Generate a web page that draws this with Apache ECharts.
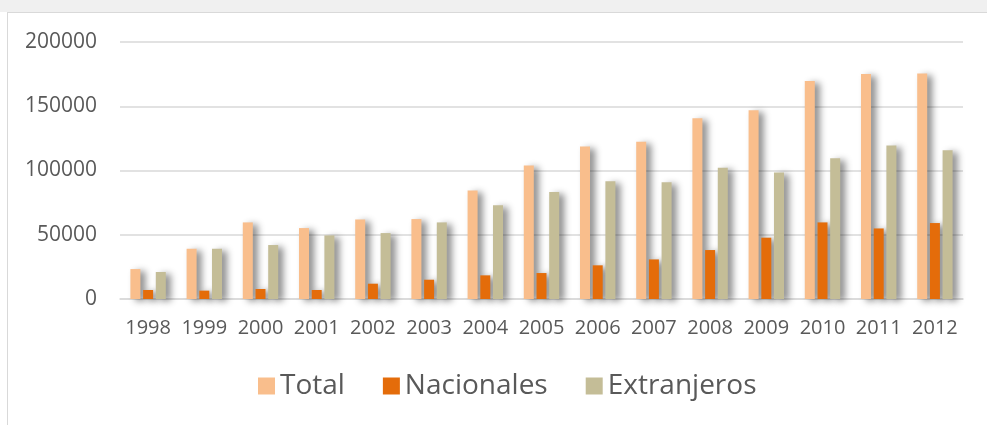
<!DOCTYPE html>
<html>
<head>
<meta charset="utf-8">
<script src="https://cdn.jsdelivr.net/npm/echarts@6/dist/echarts.min.js"></script>
<style>
  html, body { margin: 0; padding: 0; background: #ffffff; }
  #chart { width: 987px; height: 425px; }
</style>
</head>
<body>
<div id="chart"></div>
<script>
// Years on the category axis
const years = ['1998','1999','2000','2001','2002','2003','2004','2005','2006','2007','2008','2009','2010','2011','2012'];

// Visitor counts per year
const total       = [23300, 39100, 59600, 55200, 61900, 62200, 84500, 103900, 118700, 122300, 140600, 146900, 169700, 175100, 175400];
const nacionales  = [7000, 6500, 7800, 7000, 11900, 15000, 18400, 20200, 26200, 30800, 38100, 47700, 59600, 54900, 59100];
const extranjeros = [21000, 39100, 42000, 49500, 51300, 59600, 73000, 83200, 91700, 90900, 102100, 98500, 109600, 119500, 115800];

const seriesNames = ['Total', 'Nacionales', 'Extranjeros'];
const seriesColors = ['#F9BE8C', '#E46C0A', '#C4BD97'];
const seriesData = [total, nacionales, extranjeros];

const font = '"Open Sans", sans-serif';
const textColor = '#595959';

const chart = echarts.init(document.getElementById('chart'), null, { renderer: 'canvas' });

chart.setOption({
  animation: false,
  backgroundColor: '#ffffff',
  graphic: [
    { type: 'rect', shape: { x: 0, y: 0, width: 987, height: 12 }, style: { fill: '#f0f0f0' }, silent: true },
    { type: 'line', shape: { x1: 7, y1: 12.5, x2: 987, y2: 12.5 }, style: { stroke: '#d9d9d9', lineWidth: 1 }, silent: true },
    { type: 'line', shape: { x1: 7.5, y1: 12, x2: 7.5, y2: 425 }, style: { stroke: '#d9d9d9', lineWidth: 1 }, silent: true }
  ],
  grid: { left: 120, right: 24, top: 42, bottom: 126, containLabel: false },
  legend: {
    data: seriesNames,
    top: 367,
    left: 253,
    icon: 'rect',
    itemWidth: 17,
    itemHeight: 17,
    itemGap: 38,
    textStyle: { fontFamily: font, fontSize: 28, color: textColor }
  },
  xAxis: {
    type: 'category',
    data: years,
    axisLine: { lineStyle: { color: '#d9d9d9', width: 1.5 } },
    axisTick: { show: false },
    axisLabel: { fontFamily: font, fontSize: 20, color: textColor, margin: 19, interval: 0 }
  },
  yAxis: {
    type: 'value',
    min: 0,
    max: 200000,
    interval: 50000,
    axisLine: { show: false },
    axisTick: { show: false },
    splitLine: { lineStyle: { color: '#d9d9d9', width: 1.5 } },
    axisLabel: { fontFamily: font, fontSize: 21, color: textColor, margin: 23, formatter: v => String(v) }
  },
  series: seriesNames.map((name, i) => ({
    name: name,
    type: 'bar',
    data: seriesData[i],
    barWidth: 10,
    barGap: '27%',
    itemStyle: {
      color: seriesColors[i],
      shadowBlur: 7,
      shadowOffsetX: 5,
      shadowOffsetY: 2,
      shadowColor: 'rgba(0,0,0,0.45)'
    }
  }))
});
</script>
</body>
</html>
